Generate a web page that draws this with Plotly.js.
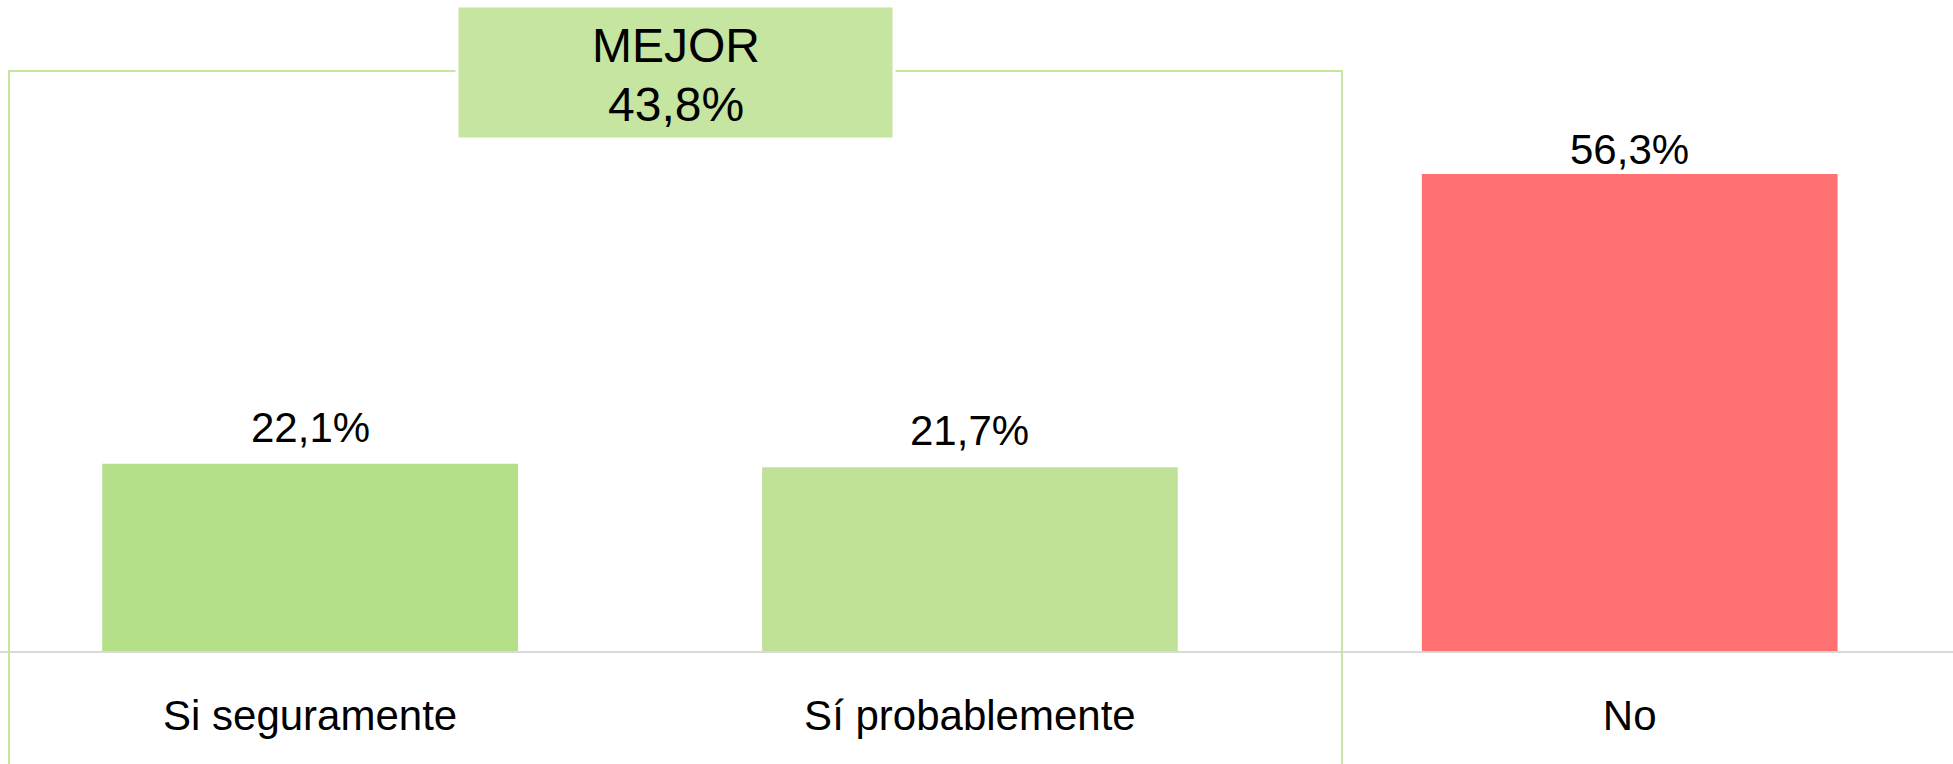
<!DOCTYPE html>
<html>
<head>
<meta charset="utf-8">
<script src="https://cdn.plot.ly/plotly-3.0.1.min.js"></script>
<style>html,body{margin:0;padding:0;background:#fff;}#chart{width:1953px;height:764px;}</style>
</head>
<body>
<div id="chart"></div>
<script>
const categories = ["Si seguramente", "Sí probablemente", "No"];
const values = [22.1, 21.7, 56.3];
const barColors = ["#b3df88", "#c0e298", "#ff7171"];
const groupLabel = "MEJOR";
const groupMembers = [0, 1];

const fmt = v => v.toFixed(1).replace(".", ",") + "%";
const groupTotal = groupMembers.reduce((s, i) => s + values[i], 0);

const FONT = "'Liberation Sans', Arial, Helvetica, sans-serif";

const trace = {
  type: "bar",
  x: categories,
  y: values,
  width: 0.63,
  marker: { color: barColors, line: { width: 0 } },
  hoverinfo: "none",
  cliponaxis: false
};

const valueAnnotations = categories.map((c, i) => ({
  xref: "x", yref: "y", x: c, y: values[i],
  text: fmt(values[i]), showarrow: false,
  xanchor: "center", yanchor: "bottom",
  yshift: groupMembers.includes(i) ? 11 : -1,
  font: { family: FONT, size: 42, color: "#000" }
}));

const boxGreen = "#c5e5a0";
const bracketGreen = "#c4e6a0";

const layout = {
  width: 1953, height: 764,
  margin: { l: 0, r: 0, t: 0, b: 113, pad: 0 },
  paper_bgcolor: "#ffffff", plot_bgcolor: "#ffffff",
  showlegend: false,
  bargap: 0.37,
  xaxis: {
    type: "category",
    range: [-0.47, 2.49],
    showgrid: false, zeroline: false,
    showline: true, linecolor: "#d9d9d9", linewidth: 2,
    ticks: "", ticklabelstandoff: 27,
    tickfont: { family: FONT, size: 42, color: "#000" },
    fixedrange: true
  },
  yaxis: {
    range: [0, 76.85],
    visible: false, showgrid: false, zeroline: false,
    fixedrange: true
  },
  shapes: [
    { type: "path", xref: "paper", yref: "paper", layer: "above",
      path: "M 0.0046,-0.3 L 0.0046,0.891 L 0.6871,0.891 L 0.6871,-0.3",
      line: { color: bracketGreen, width: 2 } },
    { type: "rect", xref: "paper", yref: "paper", layer: "above",
      x0: 0.2340, x1: 0.4578, y0: 0.7865, y1: 0.9908,
      fillcolor: boxGreen, line: { color: "#ffffff", width: 3 } }
  ],
  annotations: valueAnnotations.concat([
    { xref: "paper", yref: "paper", x: 0.3459, y: 0.886, text: groupLabel,
      showarrow: false, xanchor: "center", yanchor: "bottom",
      font: { family: FONT, size: 48, color: "#000" } },
    { xref: "paper", yref: "paper", x: 0.3459, y: 0.7955, text: fmt(groupTotal),
      showarrow: false, xanchor: "center", yanchor: "bottom",
      font: { family: FONT, size: 48, color: "#000" } }
  ])
};

Plotly.newPlot("chart", [trace], layout, { displayModeBar: false, staticPlot: true });
</script>
</body>
</html>
